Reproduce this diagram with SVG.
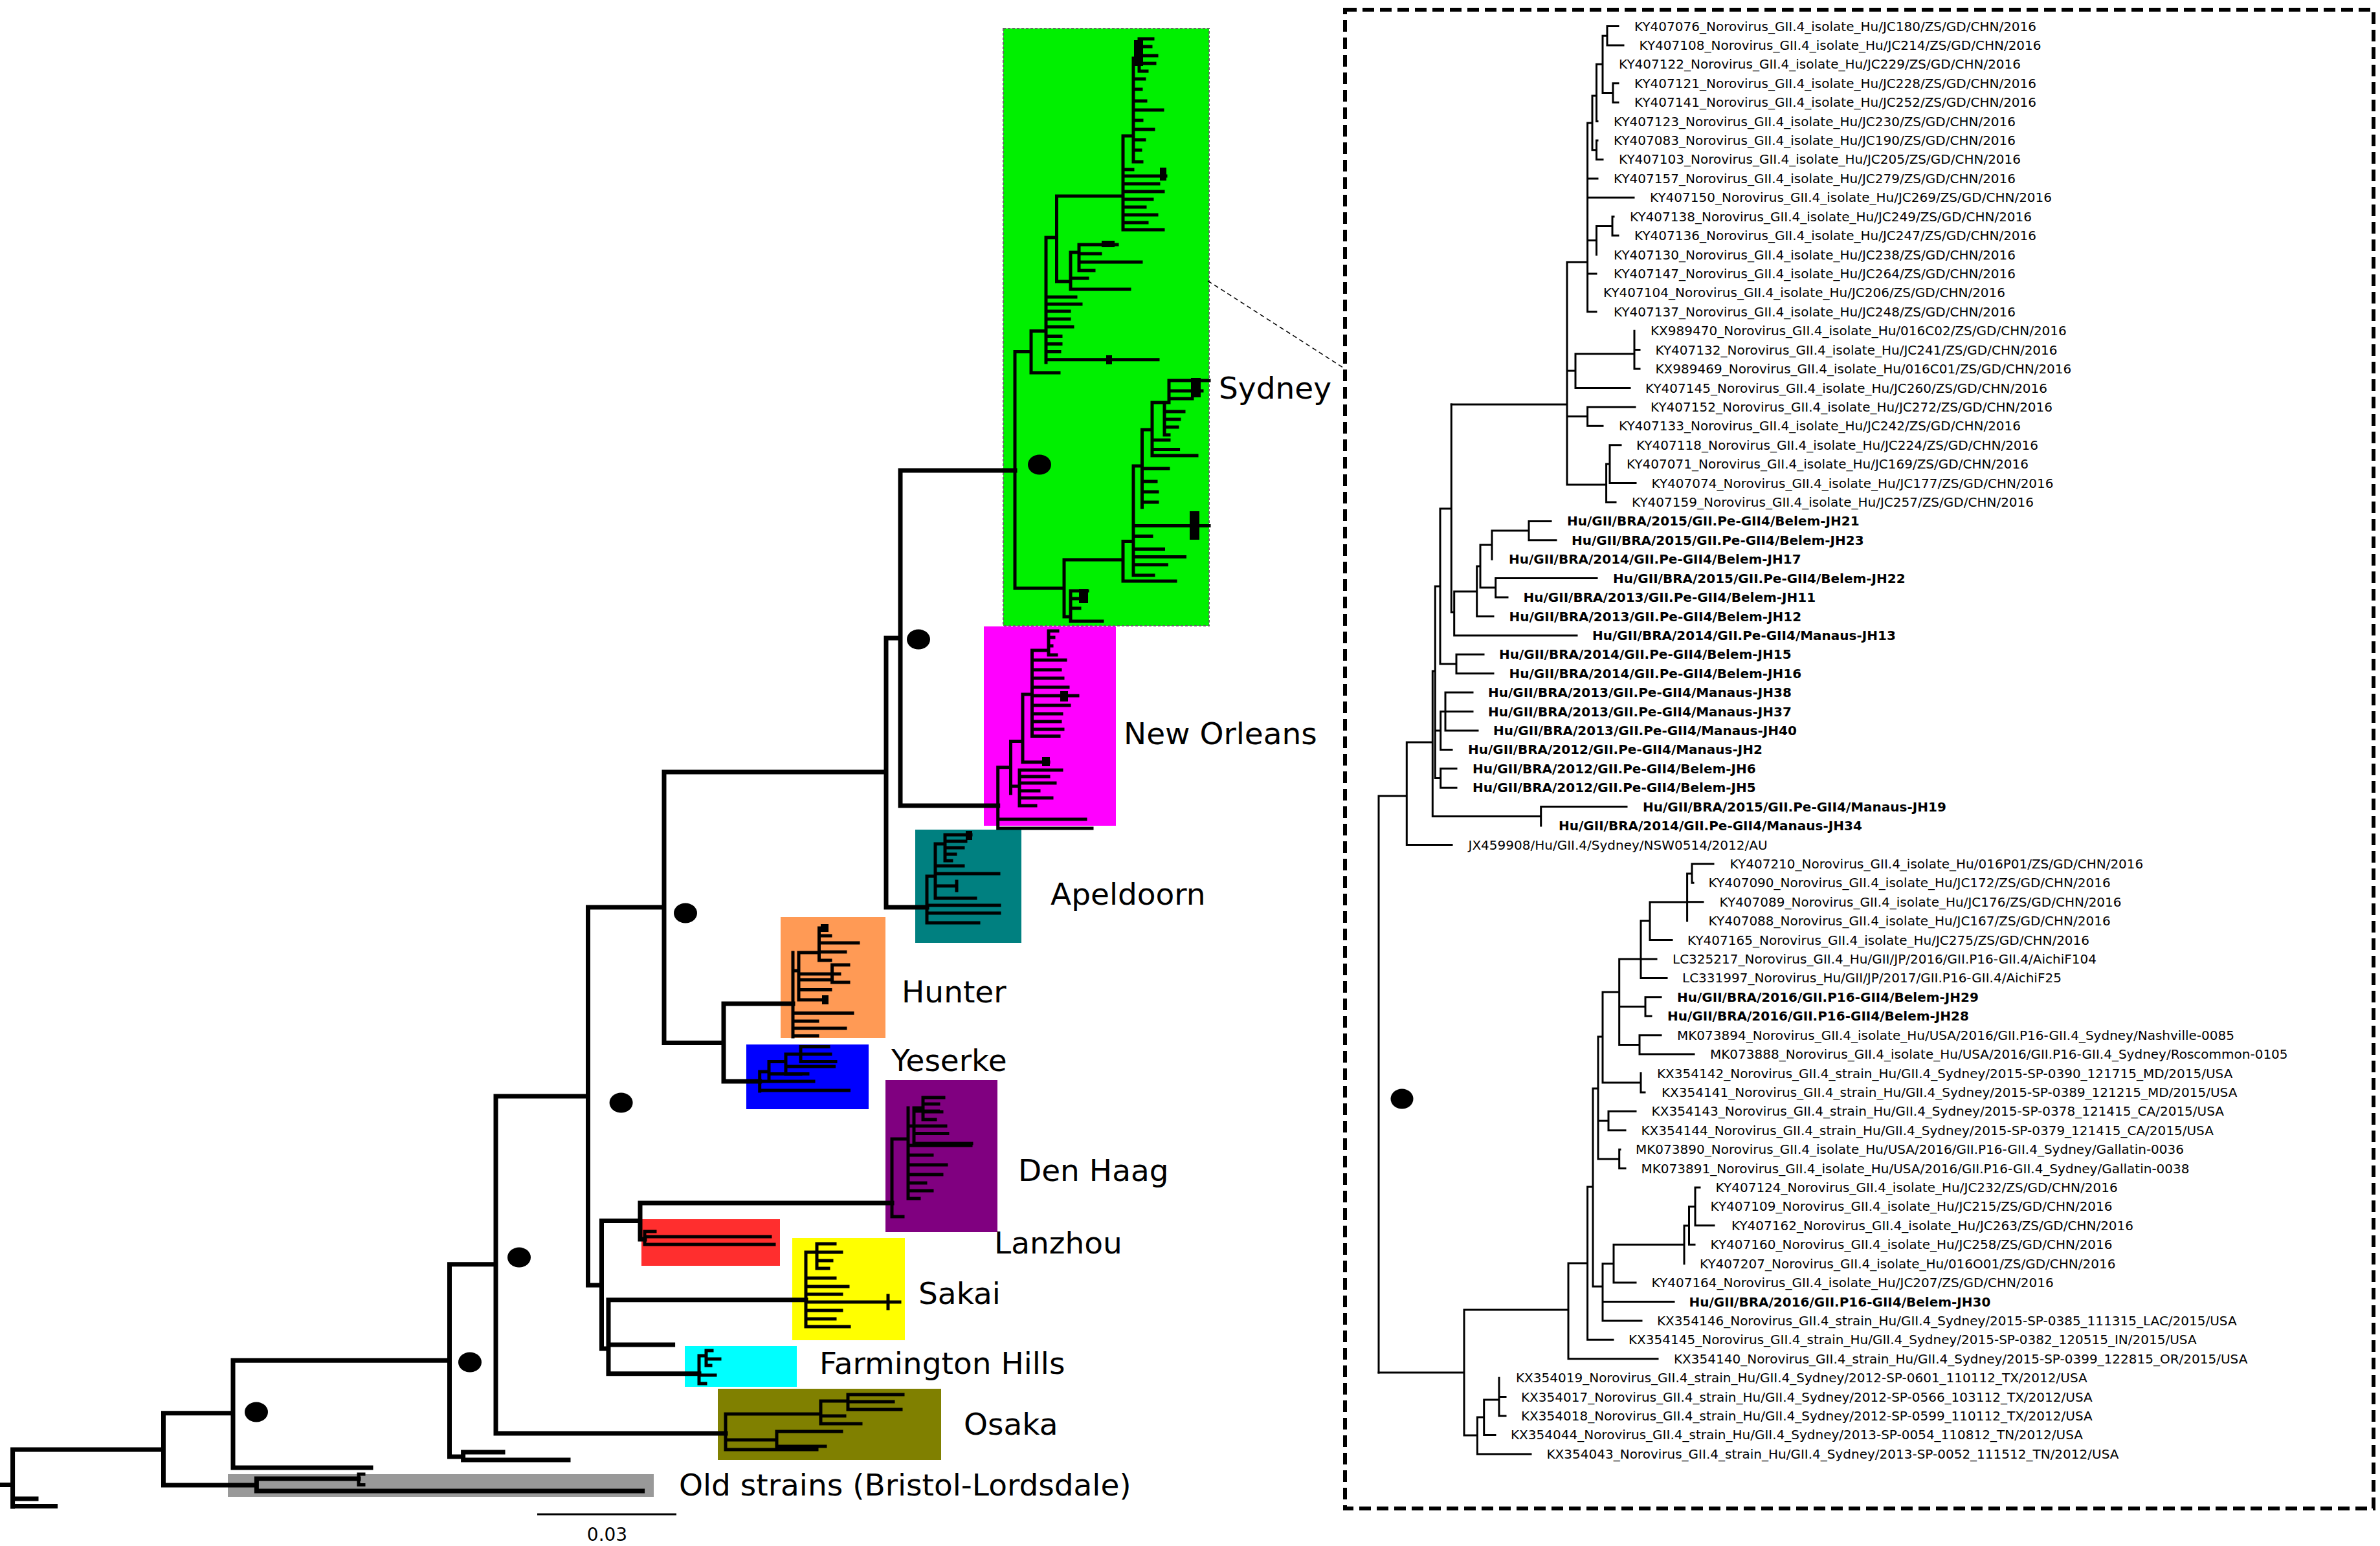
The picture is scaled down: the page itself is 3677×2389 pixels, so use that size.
<svg xmlns="http://www.w3.org/2000/svg" width="3677" height="2389" viewBox="0 0 3677 2389">
<style>
.t{font-family:"DejaVu Sans",Verdana,sans-serif;font-size:20px;fill:#000}
.b{font-weight:bold}
.big{font-family:"DejaVu Sans",Verdana,sans-serif;font-size:47px;fill:#000}
.main{fill:none;stroke:#000;stroke-width:7;stroke-linecap:square}
.sub{fill:none;stroke:#000;stroke-width:5;stroke-linecap:square}
.rt{fill:none;stroke:#000;stroke-width:3;stroke-linecap:square}
.dot{fill:#000}
</style>
<rect width="3677" height="2389" fill="#fff"/>

<!-- clade boxes -->
<g id="boxes">
<rect id="box-sydney" x="1550" y="44" width="318" height="923" fill="#00f000" stroke="#666" stroke-width="2" stroke-dasharray="4 3"/>
<rect id="box-neworleans" x="1520" y="968" width="204" height="308" fill="#ff00ff"/>
<rect id="box-apeldoorn" x="1414" y="1282" width="164" height="175" fill="#008080"/>
<rect id="box-hunter" x="1206" y="1417" width="162" height="187" fill="#ff9a55"/>
<rect id="box-yeserke" x="1153" y="1614" width="189" height="100" fill="#0000ff"/>
<rect id="box-denhaag" x="1368" y="1669" width="173" height="235" fill="#800080"/>
<rect id="box-lanzhou" x="991" y="1884" width="214" height="72" fill="#ff2e2e"/>
<rect id="box-sakai" x="1224" y="1913" width="174" height="158" fill="#ffff00"/>
<rect id="box-farmington" x="1058" y="2080" width="173" height="63" fill="#00ffff"/>
<rect id="box-osaka" x="1109" y="2146" width="345" height="110" fill="#808000"/>
<rect id="box-old" x="352" y="2278" width="658" height="35" fill="#999999"/>
</g>

<!-- left tree connectors -->
<g id="left-tree">
<path class="main" d="M3.5 2294.6H19.6 M19.6 2240V2328 M19.6 2316H56 M19.6 2327.6H85.6 M19.6 2240H252.5 M252.5 2183.8V2295 M252.5 2295H396.4 M396.4 2285V2304 M396.4 2285H554 M396.4 2304H992.6 M252.5 2183.8H360 M360 2102.3V2268 M360 2268H573 M360 2102.3H694.5 M694.5 1953.7V2251 M694.5 2251H715.6 M715.6 2244V2256 M715.6 2244H777 M715.6 2256H878 M694.5 1953.7H766 M766 1694V2215 M766 2215H1121 M766 1694H908.5 M908.5 1402V1986 M908.5 1402H1026 M1026 1193V1611.5 M1026 1611.5H1118 M1118 1551V1671 M1118 1551H1225 M1118 1671H1173.7 M1026 1193H1369 M1369 986V1402 M1369 1402H1432 M1369 986H1391 M1391 727V1245 M1391 727H1568 M1391 1245H1541.7 M908.5 1986H929.5 M929.5 1886.5V2084 M929.5 1886.5H989 M989 1859V1915 M989 1859H1378 M989 1915H996 M929.5 2084H940 M940 2008.7V2122.7 M940 2008.7H1245 M940 2078H1039.6 M940 2122.7H1080"/>
<path class="sub" d="M554 2278V2294.6 M554 2278H562 M554 2294.6H562"/>
<!-- Sydney -->
<path class="sub" d="M1568 543.6V909 M1568 543.6H1593 M1593 511.5V576 M1593 576H1636 M1593 511.5H1616 M1616 367V560 M1616 367H1632.5 M1632.5 303V435 M1632.5 303H1735 M1735 210V355 M1735 210H1751 M1751 90V250 M1751 90H1760 M1760 60V110 M1760 60H1781 M1760 72H1778 M1760 86H1787 M1760 98H1784 M1760 110H1772 M1751 122H1768 M1751 138H1763 M1751 156H1770 M1751 170H1796 M1751 186H1764 M1751 200H1782 M1751 216H1768 M1751 232H1762 M1751 250H1764 M1735 262H1750 M1735 272H1801 M1735 284H1790 M1735 296H1797 M1735 308H1780 M1735 320H1769 M1735 332H1787 M1735 344H1772 M1735 355H1797 M1632.5 435H1654 M1654 390V447 M1654 390H1667 M1667 378V418 M1667 378H1726 M1667 392H1700 M1667 405H1763 M1667 418H1690 M1654 430H1680 M1654 447H1745 M1616 459H1662 M1616 470H1670 M1616 481H1652 M1616 493H1652 M1616 505H1657 M1616 519.6H1639 M1616 531.6H1639 M1616 543.6H1637 M1616 555.7H1789 M1568 909H1644 M1644 865V953 M1644 865H1735 M1644 953H1654 M1654 913V960 M1654 913H1680 M1654 925H1672 M1654 940H1668 M1654 960H1703 M1735 836.6V898 M1735 898H1816 M1735 836.6H1751 M1751 720V889 M1751 812.5H1868 M1751 828.6H1779 M1751 848.6H1797.5 M1751 860.6H1830.5 M1751 872.7H1802.4 M1751 889H1782 M1751 720H1764.5 M1764.5 664V784 M1764.5 724H1805 M1764.5 744H1786 M1764.5 760H1788 M1764.5 776H1788 M1764.5 664H1780 M1780 622V704 M1780 622H1799 M1799 622V672 M1799 636H1829 M1799 648H1822 M1799 660H1819 M1799 672H1806 M1799 622H1806 M1806 588V622 M1806 588H1868 M1806 604H1857 M1806 616H1842 M1780 680H1806 M1780 694.5H1820.6 M1780 704H1849"/>
<rect x="1792" y="259" width="10" height="20" fill="#000"/>
<rect x="1702" y="372" width="20" height="10" fill="#000"/>
<rect x="1709" y="549" width="9" height="14" fill="#000"/>
<rect x="1667" y="910" width="14" height="22" fill="#000"/>
<rect x="1838" y="790" width="15" height="44" fill="#000"/>
<rect x="1840" y="584" width="15" height="30" fill="#000"/>
<rect x="1752" y="62" width="14" height="40" fill="#000"/>
<!-- New Orleans -->
<path class="sub" d="M1541.7 1185.7V1280 M1541.7 1266H1677 M1541.7 1280H1687 M1541.7 1185.7H1561.5 M1561.5 1145.6V1226 M1561.5 1215H1575 M1575 1190V1245 M1575 1190H1640 M1575 1200H1620 M1575 1210H1630 M1575 1222H1605 M1575 1233H1625 M1575 1245H1600 M1561.5 1145.6H1580 M1580 1073V1177.7 M1580 1177.7H1620 M1580 1073H1594.5 M1594.5 1005V1137.5 M1594.5 1005H1620 M1620 975V1012 M1620 975H1634 M1620 985H1628 M1620 998H1625 M1620 1012H1632 M1594.5 1020H1646 M1594.5 1035H1638 M1594.5 1048H1642 M1594.5 1062H1650 M1594.5 1075H1665 M1594.5 1090H1652 M1594.5 1103H1640 M1594.5 1115H1638 M1594.5 1127H1642 M1594.5 1137.5H1636"/>
<rect x="1638" y="1068" width="12" height="16" fill="#000"/>
<rect x="1610" y="1170" width="12" height="14" fill="#000"/>
<!-- Apeldoorn -->
<path class="sub" d="M1432 1354V1426 M1432 1426H1512 M1432 1411H1544 M1432 1399H1544 M1432 1354H1445 M1445 1304V1388 M1445 1388H1507 M1445 1369H1477 M1478 1362V1376 M1445 1350H1543 M1445 1338H1488 M1445 1304H1460 M1460 1290V1330 M1460 1290H1500 M1460 1300H1492 M1460 1310H1488 M1460 1320H1476 M1460 1330H1470"/>
<rect x="1492" y="1284" width="10" height="14" fill="#000"/>
<!-- Hunter -->
<path class="sub" d="M1225 1472V1602 M1225 1565.6H1317 M1225 1578H1263 M1225 1589H1306 M1225 1600.7H1263 M1225 1500H1234 M1234 1472V1545 M1234 1514H1283 M1234 1529.6H1283 M1234 1545H1277 M1234 1472H1265.5 M1265.5 1434V1484 M1265.5 1434H1277 M1265.5 1446H1283 M1265.5 1457H1326 M1265.5 1471H1306 M1265.5 1484H1283 M1234 1505H1285.6 M1285.6 1491V1518 M1285.6 1491H1311 M1285.6 1505H1297 M1285.6 1518H1311"/>
<rect x="1268" y="1428" width="12" height="12" fill="#000"/>
<rect x="1270" y="1538" width="10" height="14" fill="#000"/>
<!-- Yeserke -->
<path class="sub" d="M1173.7 1656V1686 M1173.7 1685H1311.5 M1173.7 1671H1257 M1173.7 1656H1188 M1188 1640.5V1671 M1188 1659.6H1248 M1188 1640.5H1214 M1214 1629V1660 M1214 1648H1288.5 M1214 1660H1237 M1214 1629H1237 M1237 1617.6V1640.5 M1237 1617.6H1280 M1237 1629H1283 M1237 1640.5H1291"/>
<!-- Den Haag -->
<path class="sub" d="M1378 1760V1880 M1378 1880H1395 M1378 1760H1403 M1403 1712V1852 M1403 1852H1420 M1403 1840H1440 M1403 1828H1430 M1403 1815H1455 M1403 1800H1462 M1403 1785H1440 M1403 1770H1500 M1403 1740H1412 M1412 1717V1767 M1412 1717H1449.5 M1412 1740H1461 M1412 1751.5H1464 M1412 1767H1501 M1412 1712H1426 M1426 1696V1730 M1426 1696H1458 M1426 1706H1450 M1426 1718H1455 M1426 1730H1445"/>
<!-- Lanzhou -->
<path class="sub" d="M996 1903V1923 M996 1903H1012 M996 1911H1190 M996 1923H1196"/>
<!-- Sakai -->
<path class="sub" d="M1245 1935V2050 M1245 1935H1262 M1262 1922V1960 M1262 1922H1290 M1262 1935H1300 M1262 1948H1285 M1262 1960H1280 M1245 1975H1290 M1245 1988H1310 M1245 2000H1300 M1245 2012H1390 M1372 2002V2022 M1245 2025H1300 M1245 2038H1290 M1245 2050H1312"/>
<!-- Farmington Hills -->
<path class="sub" d="M1080 2095V2138 M1080 2095H1091 M1091 2087V2110 M1091 2087H1100 M1091 2100H1112 M1091 2110H1098 M1080 2125H1105 M1080 2138H1090"/>
<!-- Osaka -->
<path class="sub" d="M1121 2185V2240 M1121 2240H1262 M1121 2225H1200 M1200 2212V2235 M1200 2212H1300 M1200 2235H1275 M1121 2185H1268 M1268 2165V2200 M1268 2200H1330 M1268 2188H1305 M1268 2165H1310 M1310 2155V2178 M1310 2155H1395 M1310 2166H1380 M1310 2178H1392"/>
</g>

<!-- support dots -->
<g id="dots">
<ellipse class="dot" cx="1606" cy="718" rx="18" ry="15.5"/>
<ellipse class="dot" cx="1419" cy="988" rx="18" ry="15.5"/>
<ellipse class="dot" cx="1059" cy="1411" rx="18" ry="15.5"/>
<ellipse class="dot" cx="959.6" cy="1704" rx="18" ry="15.5"/>
<ellipse class="dot" cx="802" cy="1943" rx="18" ry="15.5"/>
<ellipse class="dot" cx="726" cy="2105" rx="18" ry="15.5"/>
<ellipse class="dot" cx="396" cy="2182" rx="18" ry="15.5"/>
<ellipse class="dot" cx="2166" cy="1698" rx="17.5" ry="15.5"/>
</g>

<!-- clade labels -->
<g id="clade-labels">
<text class="big" x="1883" y="616">Sydney</text>
<text class="big" x="1736" y="1150">New Orleans</text>
<text class="big" x="1623" y="1398">Apeldoorn</text>
<text class="big" x="1393" y="1549">Hunter</text>
<text class="big" x="1377" y="1655">Yeserke</text>
<text class="big" x="1573" y="1825">Den Haag</text>
<text class="big" x="1536" y="1937">Lanzhou</text>
<text class="big" x="1419" y="2015">Sakai</text>
<text class="big" x="1266" y="2123">Farmington Hills</text>
<text class="big" x="1489" y="2217">Osaka</text>
<text class="big" x="1049" y="2311">Old strains (Bristol-Lordsdale)</text>
</g>

<!-- scale bar -->
<g id="scale">
<path d="M830 2340H1045" stroke="#000" stroke-width="3"/>
<text x="938" y="2381" text-anchor="middle" style="font-family:'DejaVu Sans',sans-serif;font-size:28px">0.03</text>
</g>

<!-- zoom connector and panel -->
<g id="connectors">
<path d="M1866 434L2075 568" stroke="#000" stroke-width="1.5" stroke-dasharray="7 5" fill="none"/>
</g>
<rect id="panel" x="2078" y="15" width="1589" height="2316" fill="none" stroke="#000" stroke-width="6" stroke-dasharray="18 9"/>

<!-- right tree -->
<g id="right-tree">
<path class="rt" d="M2483 40.5V69.9 M2483 40.5H2500 M2483 69.9H2508 M2476 55.2H2483 M2492 128.8V158.2 M2492 128.8H2500 M2492 158.2H2500 M2476 143.5H2492 M2476 55.2V143.5 M2466.5 99.3H2476 M2466.5 99.3V187.6 M2466.5 187.6H2468 M2460 148H2466.5 M2466.5 217V246.4 M2466.5 217H2468 M2466.5 246.4H2476 M2460 231.7H2466.5 M2460 148V231.7 M2452.6 190H2460 M2491 334.7V364.1 M2491 334.7H2493 M2491 364.1H2500 M2466.5 349.4H2491 M2466.5 349.4V393.5 M2452.6 371.5H2466.5 M2452.6 190V481.8 M2452.6 275.9H2468 M2452.6 305.3H2524 M2452.6 422.9H2466 M2452.6 481.8H2466 M2421 405H2452.6 M2525 511.2V570 M2525 540.6H2533 M2525 570H2533 M2434 546.7H2525 M2434 546.7V599.5 M2434 599.5H2518 M2421 573H2434 M2452.6 628.9V658.3 M2452.6 628.9H2526 M2452.6 658.3H2476 M2421 643.6H2452.6 M2487 687.7V746.5 M2487 687.7H2504 M2487 746.5H2527 M2481.6 717H2487 M2481.6 717V776 M2481.6 776H2496 M2421 749H2481.6 M2421 405V749 M2242.3 625H2421"/>
<path class="rt" d="M2362 805.4V834.8 M2362 805.4H2396 M2362 834.8H2404 M2305 820H2362 M2305 820V864.2 M2287 842H2305 M2310.7 893.6V923 M2310.7 893.6H2467 M2310.7 923H2329 M2287 908H2310.7 M2287 842V908 M2281.7 875H2287 M2281.7 875V952.5 M2281.7 952.5H2307 M2246.7 914H2281.7 M2246.7 914V981.9 M2246.7 981.9H2436 M2242.3 946H2246.7 M2242.3 625V946 M2225 786H2242.3 M2250 1011.3V1040.7 M2250 1011.3H2292 M2250 1040.7H2307 M2225 1026H2250 M2225 786V1026 M2217.3 906H2225 M2233 1070.1V1129 M2233 1070.1H2275 M2233 1099.5H2275 M2233 1129H2283 M2225.7 1099.5H2233 M2225.7 1099.5V1158.4 M2225.7 1158.4H2243 M2217.3 1129H2225.7 M2225.7 1187.8V1217.2 M2225.7 1187.8H2250 M2225.7 1217.2H2250 M2217.3 1202.5H2225.7 M2217.3 906V1202.5 M2213.3 1037H2217.3 M2380.7 1246.6V1276.1 M2380.7 1246.6H2513 M2213.3 1261.4H2380.7 M2213.3 1037V1261.4 M2173.3 1147H2213.3 M2173.3 1147V1305.5 M2173.3 1305.5H2243 M2130 1230H2173.3 M2130 1230V2121"/>
<path class="rt" d="M2614 1334.9V1364.3 M2614 1334.9H2647 M2614 1364.3H2616 M2606.6 1350H2614 M2606.6 1350V1423.1 M2606.6 1393.7H2631 M2549 1394H2606.6 M2549 1394V1452.6 M2549 1452.6H2583 M2535 1423H2549 M2535 1423V1511.4 M2535 1482H2559 M2535 1511.4H2575 M2501.7 1482H2535 M2542 1540.8V1570.2 M2542 1540.8H2566 M2542 1570.2H2551 M2501.7 1555.5H2542 M2533 1599.7V1629.1 M2533 1599.7H2566 M2533 1629.1H2617 M2501.7 1614.4H2533 M2501.7 1482V1614.4 M2476 1533H2501.7 M2535 1658.5V1687.9 M2535 1687.9H2541 M2476 1673H2535 M2476 1533V1673 M2469 1602H2476 M2485 1717.3V1746.7 M2485 1717.3H2527 M2485 1746.7H2511 M2469 1732H2485 M2501.7 1776.2V1805.6 M2501.7 1776.2H2503 M2501.7 1805.6H2511 M2469 1791H2501.7 M2469 1602V1791 M2461 1682H2469 M2619 1835V1893.8 M2619 1835H2626 M2619 1893.8H2648 M2609.5 1864.4H2619 M2609.5 1864.4V1923.3 M2609.5 1923.3H2618 M2602 1894H2609.5 M2602 1894V1952.7 M2493 1923.3H2602 M2493 1923.3V1982.1 M2493 1982.1H2527 M2476 1952.7H2493 M2476 1952.7V2040.9 M2476 2011.5H2586 M2476 2040.9H2536 M2461 1988H2476 M2461 1682V1988 M2452.6 1834H2461 M2452.6 1834V2070.3 M2452.6 2070.3H2492 M2423 1952H2452.6 M2423 1952V2099.8 M2423 2099.8H2561 M2262 2024H2423 M2316 2129.2V2188 M2316 2158.6H2326 M2316 2188H2326 M2292.7 2163H2316 M2292.7 2163V2217.4 M2292.7 2217.4H2310 M2282.4 2190H2292.7 M2282.4 2190V2246.9 M2282.4 2246.9H2365 M2262 2218H2282.4 M2262 2024V2218 M2130 2121H2262"/>
</g>

<!-- right tree labels -->
<g id="leaf-labels">
<text class="t" x="2525" y="47.5">KY407076_Norovirus_GII.4_isolate_Hu/JC180/ZS/GD/CHN/2016</text>
<text class="t" x="2532.5" y="76.9">KY407108_Norovirus_GII.4_isolate_Hu/JC214/ZS/GD/CHN/2016</text>
<text class="t" x="2501" y="106.3">KY407122_Norovirus_GII.4_isolate_Hu/JC229/ZS/GD/CHN/2016</text>
<text class="t" x="2525" y="135.8">KY407121_Norovirus_GII.4_isolate_Hu/JC228/ZS/GD/CHN/2016</text>
<text class="t" x="2525" y="165.2">KY407141_Norovirus_GII.4_isolate_Hu/JC252/ZS/GD/CHN/2016</text>
<text class="t" x="2493" y="194.6">KY407123_Norovirus_GII.4_isolate_Hu/JC230/ZS/GD/CHN/2016</text>
<text class="t" x="2493" y="224">KY407083_Norovirus_GII.4_isolate_Hu/JC190/ZS/GD/CHN/2016</text>
<text class="t" x="2501" y="253.4">KY407103_Norovirus_GII.4_isolate_Hu/JC205/ZS/GD/CHN/2016</text>
<text class="t" x="2493" y="282.9">KY407157_Norovirus_GII.4_isolate_Hu/JC279/ZS/GD/CHN/2016</text>
<text class="t" x="2549" y="312.3">KY407150_Norovirus_GII.4_isolate_Hu/JC269/ZS/GD/CHN/2016</text>
<text class="t" x="2518" y="341.7">KY407138_Norovirus_GII.4_isolate_Hu/JC249/ZS/GD/CHN/2016</text>
<text class="t" x="2525" y="371.1">KY407136_Norovirus_GII.4_isolate_Hu/JC247/ZS/GD/CHN/2016</text>
<text class="t" x="2493" y="400.5">KY407130_Norovirus_GII.4_isolate_Hu/JC238/ZS/GD/CHN/2016</text>
<text class="t" x="2493" y="429.9">KY407147_Norovirus_GII.4_isolate_Hu/JC264/ZS/GD/CHN/2016</text>
<text class="t" x="2477" y="459.4">KY407104_Norovirus_GII.4_isolate_Hu/JC206/ZS/GD/CHN/2016</text>
<text class="t" x="2493" y="488.8">KY407137_Norovirus_GII.4_isolate_Hu/JC248/ZS/GD/CHN/2016</text>
<text class="t" x="2550" y="518.2">KX989470_Norovirus_GII.4_isolate_Hu/016C02/ZS/GD/CHN/2016</text>
<text class="t" x="2557.5" y="547.6">KY407132_Norovirus_GII.4_isolate_Hu/JC241/ZS/GD/CHN/2016</text>
<text class="t" x="2557.5" y="577">KX989469_Norovirus_GII.4_isolate_Hu/016C01/ZS/GD/CHN/2016</text>
<text class="t" x="2542" y="606.5">KY407145_Norovirus_GII.4_isolate_Hu/JC260/ZS/GD/CHN/2016</text>
<text class="t" x="2550" y="635.9">KY407152_Norovirus_GII.4_isolate_Hu/JC272/ZS/GD/CHN/2016</text>
<text class="t" x="2501" y="665.3">KY407133_Norovirus_GII.4_isolate_Hu/JC242/ZS/GD/CHN/2016</text>
<text class="t" x="2528" y="694.7">KY407118_Norovirus_GII.4_isolate_Hu/JC224/ZS/GD/CHN/2016</text>
<text class="t" x="2513" y="724.1">KY407071_Norovirus_GII.4_isolate_Hu/JC169/ZS/GD/CHN/2016</text>
<text class="t" x="2551.5" y="753.5">KY407074_Norovirus_GII.4_isolate_Hu/JC177/ZS/GD/CHN/2016</text>
<text class="t" x="2521" y="783">KY407159_Norovirus_GII.4_isolate_Hu/JC257/ZS/GD/CHN/2016</text>
<text class="t b" x="2421" y="812.4">Hu/GII/BRA/2015/GII.Pe-GII4/Belem-JH21</text>
<text class="t b" x="2428" y="841.8">Hu/GII/BRA/2015/GII.Pe-GII4/Belem-JH23</text>
<text class="t b" x="2331" y="871.2">Hu/GII/BRA/2014/GII.Pe-GII4/Belem-JH17</text>
<text class="t b" x="2492" y="900.6">Hu/GII/BRA/2015/GII.Pe-GII4/Belem-JH22</text>
<text class="t b" x="2353.5" y="930">Hu/GII/BRA/2013/GII.Pe-GII4/Belem-JH11</text>
<text class="t b" x="2331.5" y="959.5">Hu/GII/BRA/2013/GII.Pe-GII4/Belem-JH12</text>
<text class="t b" x="2460" y="988.9">Hu/GII/BRA/2014/GII.Pe-GII4/Manaus-JH13</text>
<text class="t b" x="2316" y="1018.3">Hu/GII/BRA/2014/GII.Pe-GII4/Belem-JH15</text>
<text class="t b" x="2331.5" y="1047.7">Hu/GII/BRA/2014/GII.Pe-GII4/Belem-JH16</text>
<text class="t b" x="2299" y="1077.1">Hu/GII/BRA/2013/GII.Pe-GII4/Manaus-JH38</text>
<text class="t b" x="2299" y="1106.5">Hu/GII/BRA/2013/GII.Pe-GII4/Manaus-JH37</text>
<text class="t b" x="2307" y="1136">Hu/GII/BRA/2013/GII.Pe-GII4/Manaus-JH40</text>
<text class="t b" x="2268" y="1165.4">Hu/GII/BRA/2012/GII.Pe-GII4/Manaus-JH2</text>
<text class="t b" x="2275" y="1194.8">Hu/GII/BRA/2012/GII.Pe-GII4/Belem-JH6</text>
<text class="t b" x="2275" y="1224.2">Hu/GII/BRA/2012/GII.Pe-GII4/Belem-JH5</text>
<text class="t b" x="2538" y="1253.6">Hu/GII/BRA/2015/GII.Pe-GII4/Manaus-JH19</text>
<text class="t b" x="2408" y="1283.1">Hu/GII/BRA/2014/GII.Pe-GII4/Manaus-JH34</text>
<text class="t" x="2268.5" y="1312.5">JX459908/Hu/GII.4/Sydney/NSW0514/2012/AU</text>
<text class="t" x="2672.6" y="1341.9">KY407210_Norovirus_GII.4_isolate_Hu/016P01/ZS/GD/CHN/2016</text>
<text class="t" x="2639.6" y="1371.3">KY407090_Norovirus_GII.4_isolate_Hu/JC172/ZS/GD/CHN/2016</text>
<text class="t" x="2656.5" y="1400.7">KY407089_Norovirus_GII.4_isolate_Hu/JC176/ZS/GD/CHN/2016</text>
<text class="t" x="2639.6" y="1430.1">KY407088_Norovirus_GII.4_isolate_Hu/JC167/ZS/GD/CHN/2016</text>
<text class="t" x="2607" y="1459.6">KY407165_Norovirus_GII.4_isolate_Hu/JC275/ZS/GD/CHN/2016</text>
<text class="t" x="2584" y="1489">LC325217_Norovirus_GII.4_Hu/GII/JP/2016/GII.P16-GII.4/AichiF104</text>
<text class="t" x="2599" y="1518.4">LC331997_Norovirus_Hu/GII/JP/2017/GII.P16-GII.4/AichiF25</text>
<text class="t b" x="2591" y="1547.8">Hu/GII/BRA/2016/GII.P16-GII4/Belem-JH29</text>
<text class="t b" x="2576" y="1577.2">Hu/GII/BRA/2016/GII.P16-GII4/Belem-JH28</text>
<text class="t" x="2591" y="1606.7">MK073894_Norovirus_GII.4_isolate_Hu/USA/2016/GII.P16-GII.4_Sydney/Nashville-0085</text>
<text class="t" x="2642" y="1636.1">MK073888_Norovirus_GII.4_isolate_Hu/USA/2016/GII.P16-GII.4_Sydney/Roscommon-0105</text>
<text class="t" x="2560" y="1665.5">KX354142_Norovirus_GII.4_strain_Hu/GII.4_Sydney/2015-SP-0390_121715_MD/2015/USA</text>
<text class="t" x="2567" y="1694.9">KX354141_Norovirus_GII.4_strain_Hu/GII.4_Sydney/2015-SP-0389_121215_MD/2015/USA</text>
<text class="t" x="2551.6" y="1724.3">KX354143_Norovirus_GII.4_strain_Hu/GII.4_Sydney/2015-SP-0378_121415_CA/2015/USA</text>
<text class="t" x="2535.5" y="1753.7">KX354144_Norovirus_GII.4_strain_Hu/GII.4_Sydney/2015-SP-0379_121415_CA/2015/USA</text>
<text class="t" x="2527" y="1783.2">MK073890_Norovirus_GII.4_isolate_Hu/USA/2016/GII.P16-GII.4_Sydney/Gallatin-0036</text>
<text class="t" x="2535.5" y="1812.6">MK073891_Norovirus_GII.4_isolate_Hu/USA/2016/GII.P16-GII.4_Sydney/Gallatin-0038</text>
<text class="t" x="2650.6" y="1842">KY407124_Norovirus_GII.4_isolate_Hu/JC232/ZS/GD/CHN/2016</text>
<text class="t" x="2642.5" y="1871.4">KY407109_Norovirus_GII.4_isolate_Hu/JC215/ZS/GD/CHN/2016</text>
<text class="t" x="2675" y="1900.8">KY407162_Norovirus_GII.4_isolate_Hu/JC263/ZS/GD/CHN/2016</text>
<text class="t" x="2642.5" y="1930.3">KY407160_Norovirus_GII.4_isolate_Hu/JC258/ZS/GD/CHN/2016</text>
<text class="t" x="2626" y="1959.7">KY407207_Norovirus_GII.4_isolate_Hu/016O01/ZS/GD/CHN/2016</text>
<text class="t" x="2551.6" y="1989.1">KY407164_Norovirus_GII.4_isolate_Hu/JC207/ZS/GD/CHN/2016</text>
<text class="t b" x="2609.5" y="2018.5">Hu/GII/BRA/2016/GII.P16-GII4/Belem-JH30</text>
<text class="t" x="2560" y="2047.9">KX354146_Norovirus_GII.4_strain_Hu/GII.4_Sydney/2015-SP-0385_111315_LAC/2015/USA</text>
<text class="t" x="2516" y="2077.3">KX354145_Norovirus_GII.4_strain_Hu/GII.4_Sydney/2015-SP-0382_120515_IN/2015/USA</text>
<text class="t" x="2586" y="2106.8">KX354140_Norovirus_GII.4_strain_Hu/GII.4_Sydney/2015-SP-0399_122815_OR/2015/USA</text>
<text class="t" x="2342" y="2136.2">KX354019_Norovirus_GII.4_strain_Hu/GII.4_Sydney/2012-SP-0601_110112_TX/2012/USA</text>
<text class="t" x="2350" y="2165.6">KX354017_Norovirus_GII.4_strain_Hu/GII.4_Sydney/2012-SP-0566_103112_TX/2012/USA</text>
<text class="t" x="2350" y="2195">KX354018_Norovirus_GII.4_strain_Hu/GII.4_Sydney/2012-SP-0599_110112_TX/2012/USA</text>
<text class="t" x="2334" y="2224.4">KX354044_Norovirus_GII.4_strain_Hu/GII.4_Sydney/2013-SP-0054_110812_TN/2012/USA</text>
<text class="t" x="2389.5" y="2253.9">KX354043_Norovirus_GII.4_strain_Hu/GII.4_Sydney/2013-SP-0052_111512_TN/2012/USA</text>
</g>
</svg>
